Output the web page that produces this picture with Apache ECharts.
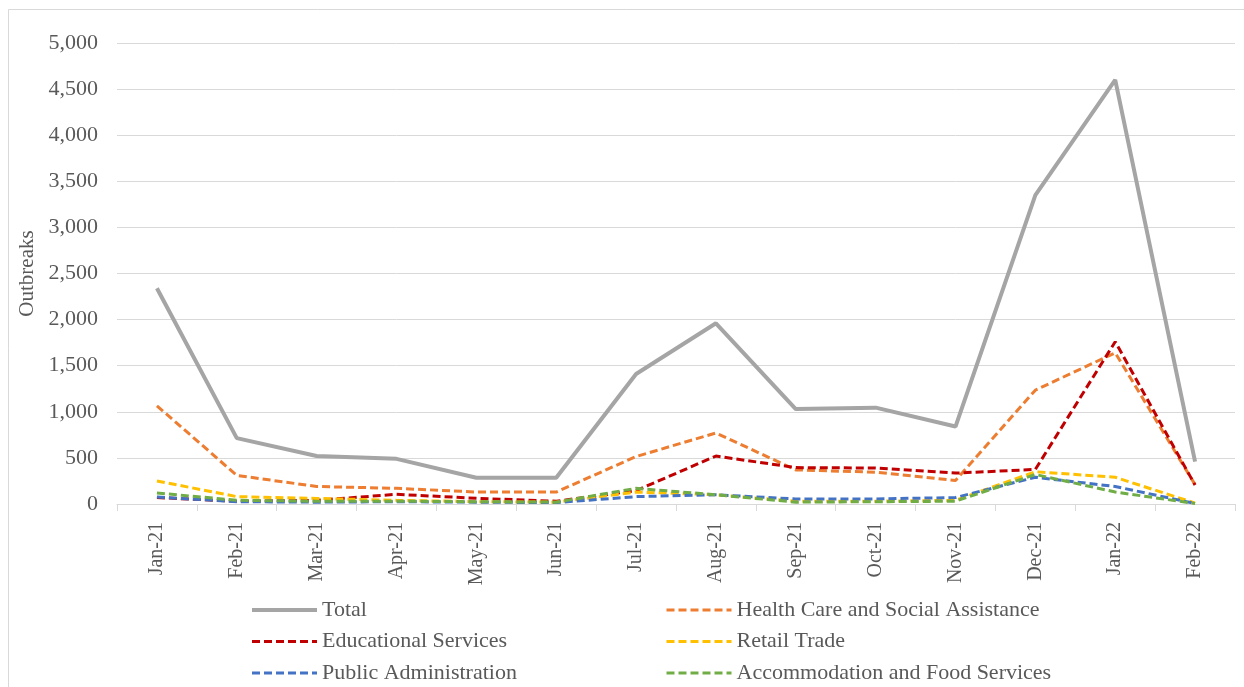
<!DOCTYPE html>
<html>
<head>
<meta charset="utf-8">
<script src="https://cdn.jsdelivr.net/npm/echarts@6/dist/echarts.min.js"></script>
<style>
  html, body { margin: 0; padding: 0; background: #ffffff; }
  #chart { width: 1244px; height: 687px; }
</style>
</head>
<body>
<div id="chart"></div>
<script>
// Monthly outbreak counts by industry, Jan 2021 – Feb 2022
const months = ['Jan-21', 'Feb-21', 'Mar-21', 'Apr-21', 'May-21', 'Jun-21', 'Jul-21',
                'Aug-21', 'Sep-21', 'Oct-21', 'Nov-21', 'Dec-21', 'Jan-22', 'Feb-22'];
const total          = [2340, 715, 520, 490, 285, 285, 1410, 1960, 1030, 1045, 840, 3350, 4600, 460];
const healthCare     = [1065, 310, 190, 170, 130, 130, 515, 770, 370, 345, 255, 1235, 1640, 210];
const educational    = [70, 30, 40, 105, 62, 30, 145, 520, 395, 390, 335, 375, 1760, 205];
const retailTrade    = [250, 80, 60, 40, 25, 20, 130, 100, 30, 30, 40, 350, 290, 10];
const publicAdmin    = [75, 25, 20, 25, 20, 15, 80, 100, 55, 55, 70, 290, 190, 5];
const accommodation  = [120, 40, 30, 30, 25, 20, 170, 100, 20, 25, 30, 320, 130, 5];
const yTicks = { min: 0, max: 5000, interval: 500 };

const FONT = '"Liberation Serif", "Times New Roman", serif';
const TEXT = '#595959';

function dashed(name, data, color) {
  return {
    name, type: 'line', data, symbol: 'none', z: 3,
    lineStyle: { color, width: 3, type: [8, 4] },
    itemStyle: { color }
  };
}

const series = [
  { name: 'Total', type: 'line', data: total, symbol: 'none', z: 2,
    lineStyle: { color: '#a5a5a5', width: 4 }, itemStyle: { color: '#a5a5a5' } },
  dashed('Health Care and Social Assistance', healthCare, '#ed7d31'),
  dashed('Educational Services', educational, '#c00000'),
  dashed('Retail Trade', retailTrade, '#ffc000'),
  dashed('Public Administration', publicAdmin, '#4472c4'),
  dashed('Accommodation and Food Services', accommodation, '#70ad47')
];

const legendBase = {
  orient: 'vertical', itemWidth: 65, itemHeight: 8, itemGap: 9.5, top: 599, height: 100,
  padding: 0,
  itemStyle: { opacity: 0 },
  lineStyle: { width: 'inherit', type: 'inherit' },
  textStyle: { fontFamily: FONT, fontSize: 22, lineHeight: 22, color: TEXT },
  selectedMode: false
};

const chart = echarts.init(document.getElementById('chart'), null, { renderer: 'canvas' });
chart.setOption({
  backgroundColor: '#ffffff',
  animation: false,
  textStyle: { fontFamily: FONT },
  graphic: [{
    type: 'rect', shape: { x: 8.5, y: 9.5, width: 1400, height: 900 },
    style: { fill: 'none', stroke: '#d9d9d9', lineWidth: 1 }, silent: true, z: -1
  }],
  grid: { left: 117, right: 9, top: 43, bottom: 183, containLabel: false },
  legend: [
    Object.assign({}, legendBase, { left: 250, data: ['Total', 'Educational Services', 'Public Administration'] }),
    Object.assign({}, legendBase, { left: 665, data: ['Health Care and Social Assistance', 'Retail Trade', 'Accommodation and Food Services'] })
  ],
  xAxis: {
    type: 'category', data: months, boundaryGap: true,
    axisLine: { lineStyle: { color: '#d9d9d9', width: 1 } },
    axisTick: { show: true, length: 7, lineStyle: { color: '#d9d9d9' } },
    axisLabel: { rotate: 90, margin: 18, fontFamily: FONT, fontSize: 20, color: TEXT, interval: 0 }
  },
  yAxis: {
    type: 'value', min: yTicks.min, max: yTicks.max, interval: yTicks.interval,
    name: 'Outbreaks', nameLocation: 'middle', nameGap: 76, nameRotate: 90,
    nameTextStyle: { fontFamily: FONT, fontSize: 21, color: TEXT },
    axisLine: { show: false }, axisTick: { show: false },
    splitLine: { lineStyle: { color: '#d9d9d9', width: 1 } },
    axisLabel: {
      margin: 19, fontFamily: FONT, fontSize: 22, color: TEXT,
      formatter: v => v.toLocaleString('en-US')
    }
  },
  series
});
</script>
</body>
</html>
